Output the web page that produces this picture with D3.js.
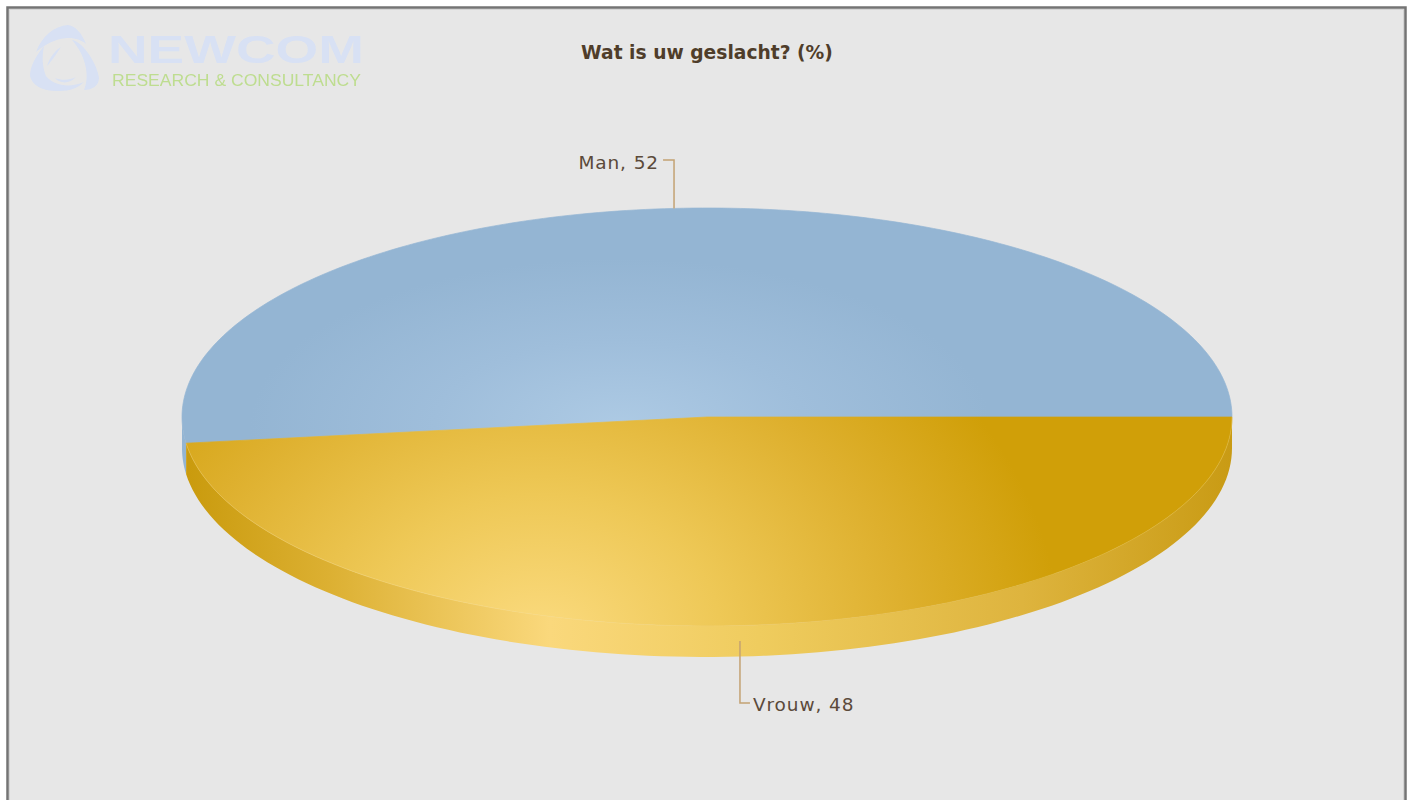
<!DOCTYPE html>
<html>
<head>
<meta charset="utf-8">
<script src="https://cdn.jsdelivr.net/npm/d3@7"></script>
<style>
  html, body { margin: 0; padding: 0; background: #fff; }
  svg { display: block; }
</style>
</head>
<body>
<div id="chart"></div>
<script>
// Chart data
const categories = ['Man', 'Vrouw'];
const percentages = [52, 48];
const chartTitle = 'Wat is uw geslacht? (%)';
const logoName = 'NEWCOM';
const logoTagline = 'RESEARCH & CONSULTANCY';

const svgWidth = 1415;
const svgHeight = 800;

// Pie geometry: a flat circle squashed to an ellipse, with a side wall below it
const cx = 707;
const cy = 417;
const rx = 525;
const ry = 209;
const depth = 31;

const svg = d3.select('#chart')
    .append('svg')
    .attr('width', svgWidth)
    .attr('height', svgHeight);

const defs = svg.append('defs');

function radial(id, stops, fx, fy, r, squash) {
    const g = defs.append('radialGradient')
        .attr('id', id)
        .attr('gradientUnits', 'userSpaceOnUse')
        .attr('cx', 0).attr('cy', 0).attr('r', r)
        .attr('gradientTransform', `translate(${fx}, ${fy}) scale(1, ${squash})`);
    stops.forEach(s => g.append('stop').attr('offset', s[0]).attr('stop-color', s[1]));
}

function linear(id, stops) {
    const g = defs.append('linearGradient')
        .attr('id', id)
        .attr('gradientUnits', 'userSpaceOnUse')
        .attr('x1', cx - rx).attr('x2', cx + rx)
        .attr('y1', 0).attr('y2', 0);
    stops.forEach(s => g.append('stop').attr('offset', s[0]).attr('stop-color', s[1]));
}

radial('topMan', [[0, '#adcae4'], [0.5, '#9fbedb'], [1, '#94b5d3']], 620, 425, 370, 0.45);
radial('topVrouw', [[0, '#fbdb80'], [0.35, '#eec856'], [0.7, '#deb02e'], [1, '#d09f08']], 540, 640, 520, 0.8);
linear('sideVrouw', [[0, '#c99a0c'], [0.14, '#dcb032'], [0.35, '#fad87c'], [0.55, '#efcc5e'], [0.8, '#deb43e'], [1, '#c99b14']]);

// Page frame and plot background
svg.append('rect')
    .attr('x', 7.5).attr('y', 7.5)
    .attr('width', 1398).attr('height', svgHeight)
    .attr('fill', '#e7e7e7')
    .attr('stroke', '#747474')
    .attr('stroke-width', 2.5);
svg.append('rect')
    .attr('x', 9.5).attr('y', 9.5)
    .attr('width', 1394).attr('height', svgHeight)
    .attr('fill', 'none')
    .attr('stroke', '#d4d4d4')
    .attr('stroke-width', 1);

// Logo watermark
const logo = svg.append('g').attr('class', 'logo');
defs.append('filter').attr('id', 'soft')
    .append('feGaussianBlur').attr('stdDeviation', 0.6);
logo.append('g')
    .attr('fill', '#d8e1f4')
    .attr('filter', 'url(#soft)')
    .selectAll('path')
    .data([
        'M36 52 C42 36 54 26 68 25 C76 26 82 34 86 44 C76 36 58 34 36 52 Z',
        'M72 40 C84 42 98 66 99 78 C99 86 92 90 84 90 C90 76 86 56 72 40 Z',
        'M44 46 C36 56 30 66 30 76 C32 86 44 92 60 91 C70 91 78 88 84 82 C70 88 54 86 46 76 C42 66 42 56 44 46 Z',
        'M47 66 C50 56 56 50 61 47 C55 56 51 62 47 66 Z',
        'M55 78 C62 81 70 80 76 77 C70 84 60 84 55 78 Z'
    ])
    .enter()
    .append('path')
    .attr('d', d => d);
logo.append('text')
    .text(logoName)
    .attr('x', 108).attr('y', 63)
    .attr('font-family', 'Liberation Sans')
    .attr('font-weight', 'bold')
    .attr('font-size', 39)
    .attr('fill', '#d8e1f4')
    .attr('filter', 'url(#soft)')
    .attr('textLength', 256)
    .attr('lengthAdjust', 'spacingAndGlyphs');
logo.append('text')
    .text(logoTagline)
    .attr('x', 112).attr('y', 86)
    .attr('font-family', 'Liberation Sans')
    .attr('font-size', 16)
    .attr('fill', '#bedd90')
    .attr('filter', 'url(#soft)')
    .attr('textLength', 249)
    .attr('lengthAdjust', 'spacingAndGlyphs');

// Title
svg.append('text')
    .text(chartTitle)
    .attr('x', 707).attr('y', 59)
    .attr('text-anchor', 'middle')
    .attr('font-family', 'DejaVu Sans')
    .attr('font-weight', 'bold')
    .attr('font-size', 18.7)
    .attr('fill', '#4f3d2a');

// Slices start so that Vrouw begins at 3 o'clock and Man closes there
const slices = d3.pie()
    .sort(null)
    .startAngle(Math.PI / 2 + 2 * Math.PI * percentages[1] / 100)
    .endAngle(Math.PI / 2 + 2 * Math.PI * percentages[1] / 100 + 2 * Math.PI)
    (percentages);

const xAt = a => cx + rx * Math.sin(a);
const yAt = a => cy - ry * Math.cos(a);

// Side wall: only the front half of the rim, i.e. 90 to 270 degrees (or one turn on)
const wall = d3.area()
    .x(a => xAt(a))
    .y0(a => yAt(a))
    .y1(a => yAt(a) + depth);

const frontAngles = d => {
    const windows = [0, 2 * Math.PI].map(turn => [
        Math.max(d.startAngle, Math.PI / 2 + turn),
        Math.min(d.endAngle, 3 * Math.PI / 2 + turn)
    ]);
    const [from, to] = d3.greatest(windows, w => w[1] - w[0]);
    return d3.range(0, 121).map(i => from + (to - from) * i / 120);
};

const sideFill = ['#94b5d3', 'url(#sideVrouw)'];
const topFill = ['url(#topMan)', 'url(#topVrouw)'];

svg.append('g')
    .selectAll('path')
    .data(slices)
    .enter()
    .append('path')
    .attr('d', d => wall(frontAngles(d)))
    .attr('fill', (d, i) => sideFill[i]);

// Top face of each slice; the thin own-colour stroke closes the gap between them
svg.append('g')
    .selectAll('path')
    .data(slices)
    .enter()
    .append('path')
    .attr('d', d => {
        const pts = d3.range(0, 181).map(i => d.startAngle + (d.endAngle - d.startAngle) * i / 180);
        return d3.line()(pts.map(a => [xAt(a), yAt(a)]).concat([[cx, cy]])) + 'Z';
    })
    .attr('fill', (d, i) => topFill[i])
    .attr('stroke', (d, i) => topFill[i])
    .attr('stroke-width', 0.7);

// Faint light seam where the gold top meets its wall
svg.append('path')
    .attr('d', d3.line()(frontAngles(slices[1]).map(a => [xAt(a), yAt(a)])))
    .attr('fill', 'none')
    .attr('stroke', '#f8e09a')
    .attr('stroke-opacity', 0.25)
    .attr('stroke-width', 1);

// Leader lines and labels, anchored at each slice's middle angle
const leaderColor = '#c4a273';
const labelStyle = sel => sel
    .attr('font-family', 'DejaVu Sans')
    .attr('font-size', 18.5)
    .attr('letter-spacing', 0.9)
    .attr('fill', '#5b4a3a');

const midMan = (slices[0].startAngle + slices[0].endAngle) / 2;
const midVrouw = (slices[1].startAngle + slices[1].endAngle) / 2;

svg.append('path')
    .attr('d', d3.line()([[xAt(midMan), yAt(midMan)], [xAt(midMan), 160], [xAt(midMan) - 11, 160]]))
    .attr('fill', 'none')
    .attr('stroke', leaderColor)
    .attr('stroke-width', 1.5);
svg.append('text')
    .text(`${categories[0]}, ${percentages[0]}`)
    .attr('x', xAt(midMan) - 15).attr('y', 169)
    .attr('text-anchor', 'end')
    .call(labelStyle);

svg.append('path')
    .attr('d', d3.line()([[xAt(midVrouw), yAt(midVrouw) + depth / 2], [xAt(midVrouw), 703], [xAt(midVrouw) + 10, 703]]))
    .attr('fill', 'none')
    .attr('stroke', leaderColor)
    .attr('stroke-width', 1.5);
svg.append('text')
    .text(`${categories[1]}, ${percentages[1]}`)
    .attr('x', xAt(midVrouw) + 13).attr('y', 711)
    .call(labelStyle);
</script>
</body>
</html>
